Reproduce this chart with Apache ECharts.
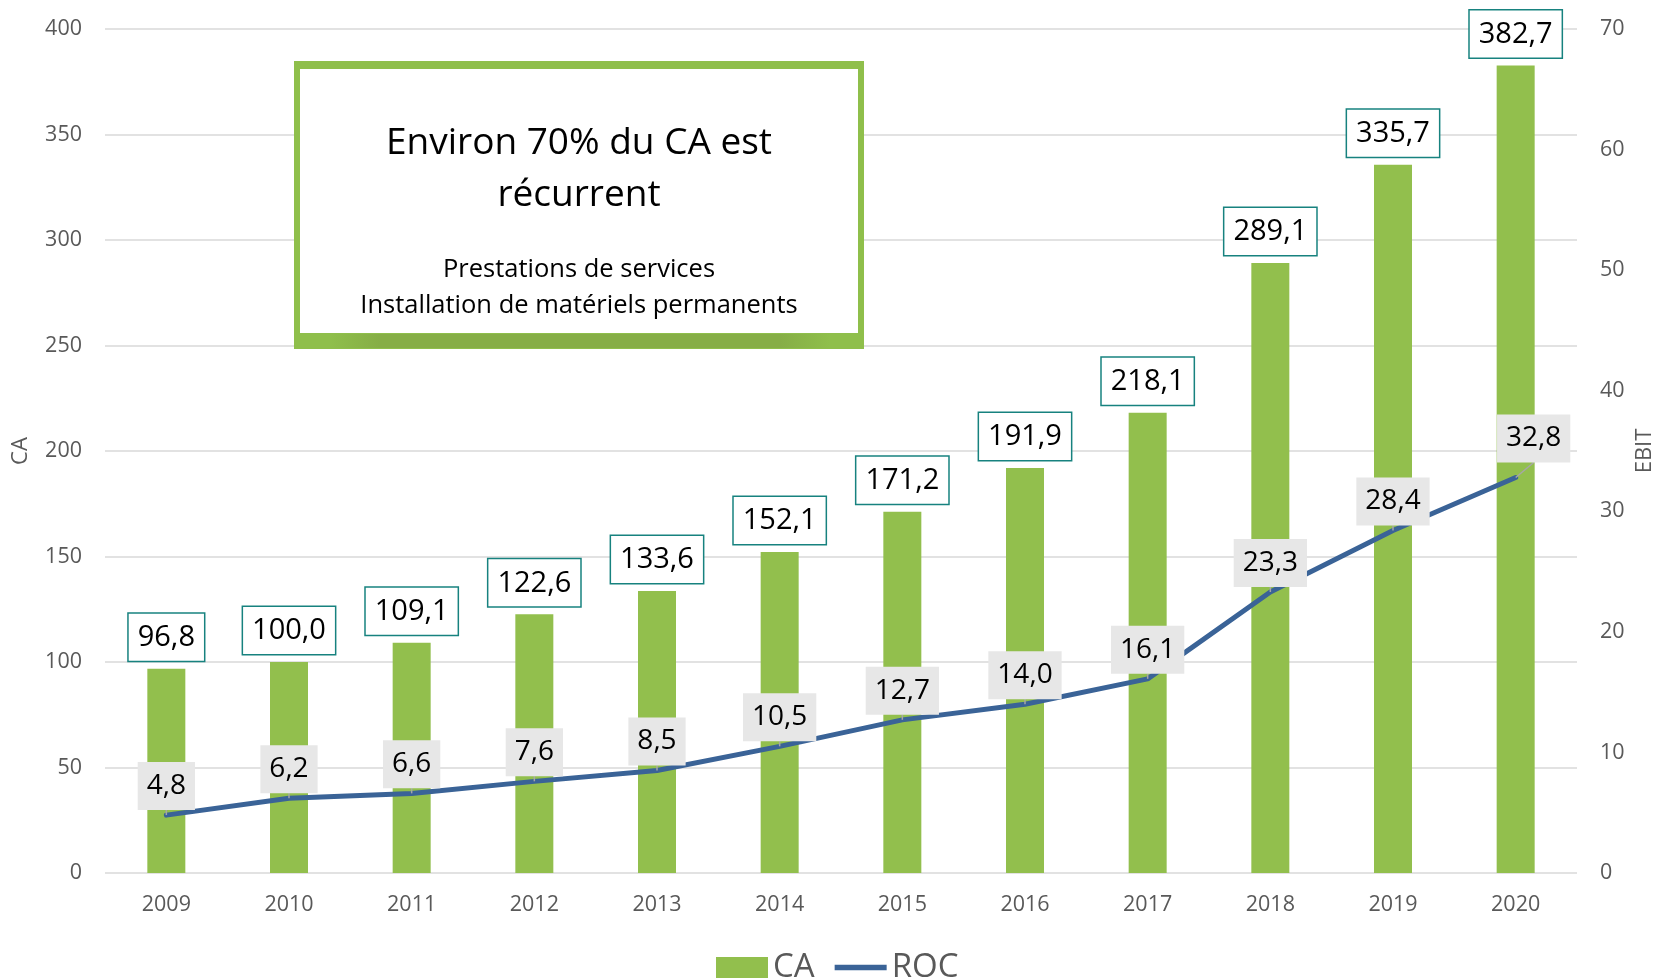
<!DOCTYPE html>
<html>
<head>
<meta charset="utf-8">
<script src="https://cdn.jsdelivr.net/npm/echarts@6/dist/echarts.min.js"></script>
<style>
html,body{margin:0;padding:0;background:#fff;}
#chart{width:1657px;height:980px;}
</style>
</head>
<body>
<div id="chart"></div>
<script>
const years = ['2009','2010','2011','2012','2013','2014','2015','2016','2017','2018','2019','2020'];
const caValues = [96.8, 100.0, 109.1, 122.6, 133.6, 152.1, 171.2, 191.9, 218.1, 289.1, 335.7, 382.7];
const rocValues = [4.8, 6.2, 6.6, 7.6, 8.5, 10.5, 12.7, 14.0, 16.1, 23.3, 28.4, 32.8];
const annotationTitle = ['Environ 70% du CA est', 'récurrent'];
const annotationLines = ['Prestations de services', 'Installation de matériels permanents'];

const fmt = v => v.toFixed(1).replace('.', ',');
const FONT = '"Open Sans", sans-serif';
const GREY = '#595959';

const chart = echarts.init(document.getElementById('chart'), null, {renderer: 'canvas'});

const option = {
  animation: false,
  backgroundColor: '#fff',
  textStyle: {fontFamily: FONT},
  grid: {left: 105, right: 80, top: 29, bottom: 107, containLabel: false, outerBoundsMode: 'none'},
  legend: {
    left: 711, top: 946,
    itemWidth: 52, itemHeight: 21, itemGap: 20,
    textStyle: {fontSize: 33, color: GREY, fontFamily: FONT},
    data: [
      {name: 'CA', icon: 'rect'},
      {name: 'ROC', icon: 'path://M0,0H100V11H0Z'}
    ]
  },
  xAxis: {
    type: 'category',
    data: years,
    axisLine: {show: false},
    axisTick: {show: false},
    axisLabel: {fontSize: 21.5, color: GREY, margin: 21, fontFamily: FONT}
  },
  yAxis: [
    {
      type: 'value', min: 0, max: 400, interval: 50,
      name: 'CA', nameLocation: 'middle', nameRotate: 90, nameGap: 73, nameMoveOverlap: false,
      nameTextStyle: {fontSize: 22, color: GREY, fontFamily: FONT},
      axisLine: {show: false}, axisTick: {show: false},
      axisLabel: {fontSize: 21.5, color: GREY, margin: 23, fontFamily: FONT},
      splitLine: {lineStyle: {color: '#d9d9d9', width: 1.5}}
    },
    {
      type: 'value', min: 0, max: 70, interval: 10, position: 'right',
      name: 'EBIT', nameLocation: 'middle', nameRotate: 90, nameGap: 57, nameMoveOverlap: false,
      nameTextStyle: {fontSize: 22, color: GREY, fontFamily: FONT},
      axisLine: {show: false}, axisTick: {show: false},
      axisLabel: {fontSize: 21.5, color: GREY, margin: 23, fontFamily: FONT},
      splitLine: {show: false}
    }
  ],
  series: [
    {
      name: 'CA', type: 'bar', data: caValues, barWidth: 38,
      itemStyle: {color: '#92bf4d'},
      label: {
        show: true, position: 'top', distance: 8,
        formatter: p => fmt(p.value),
        fontSize: 29, fontFamily: FONT, color: '#000', lineHeight: 34,
        backgroundColor: '#fff', borderColor: '#17827f', borderWidth: 1.5,
        padding: [7, 9, 6, 9]
      }
    },
    {
      name: 'ROC', type: 'line', yAxisIndex: 1, data: rocValues,
      symbol: 'circle', symbolSize: 0.1, z: 5,
      itemStyle: {color: '#3a6397'},
      lineStyle: {color: '#3a6397', width: 5, cap: 'round'},
      label: {
        show: true, position: 'top', distance: 5, offset: [-7, 0],
        formatter: p => fmt(p.value),
        fontSize: 28, fontFamily: FONT, color: '#000', lineHeight: 34,
        backgroundColor: '#e7e7e7',
        padding: [7, 9, 7, 9]
      },
      labelLine: {show: true, lineStyle: {color: '#a6a6a6', width: 1.5}},
      labelLayout: p => (p.dataIndex === rocValues.length - 1 ? {dx: 18, dy: -10} : {})
    }
  ],
  graphic: [
    {type: 'rect', z: 100, shape: {x: 294, y: 61, width: 570, height: 288}, style: {fill: '#8fbf4b'}},
    {type: 'rect', z: 101, shape: {x: 330, y: 334, width: 500, height: 14},
      style: {fill: new echarts.graphic.LinearGradient(0, 0, 1, 0, [
        {offset: 0, color: '#8fbf4b'}, {offset: 0.1, color: '#86ae46'},
        {offset: 0.9, color: '#86ae46'}, {offset: 1, color: '#8fbf4b'}])}},
    {type: 'rect', z: 102, shape: {x: 300, y: 69, width: 558, height: 264}, style: {fill: '#fff'}},
    {type: 'text', z: 103, style: {text: annotationTitle[0], x: 579, y: 143, align: 'center', verticalAlign: 'middle', fontSize: 37, fontFamily: FONT, fill: '#000'}},
    {type: 'text', z: 103, style: {text: annotationTitle[1], x: 579, y: 195, align: 'center', verticalAlign: 'middle', fontSize: 37, fontFamily: FONT, fill: '#000'}},
    {type: 'text', z: 103, style: {text: annotationLines[0], x: 579, y: 270, align: 'center', verticalAlign: 'middle', fontSize: 25.5, fontFamily: FONT, fill: '#000'}},
    {type: 'text', z: 103, style: {text: annotationLines[1], x: 579, y: 306, align: 'center', verticalAlign: 'middle', fontSize: 25.5, fontFamily: FONT, fill: '#000'}}
  ]
};
chart.setOption(option);
</script>
</body>
</html>
